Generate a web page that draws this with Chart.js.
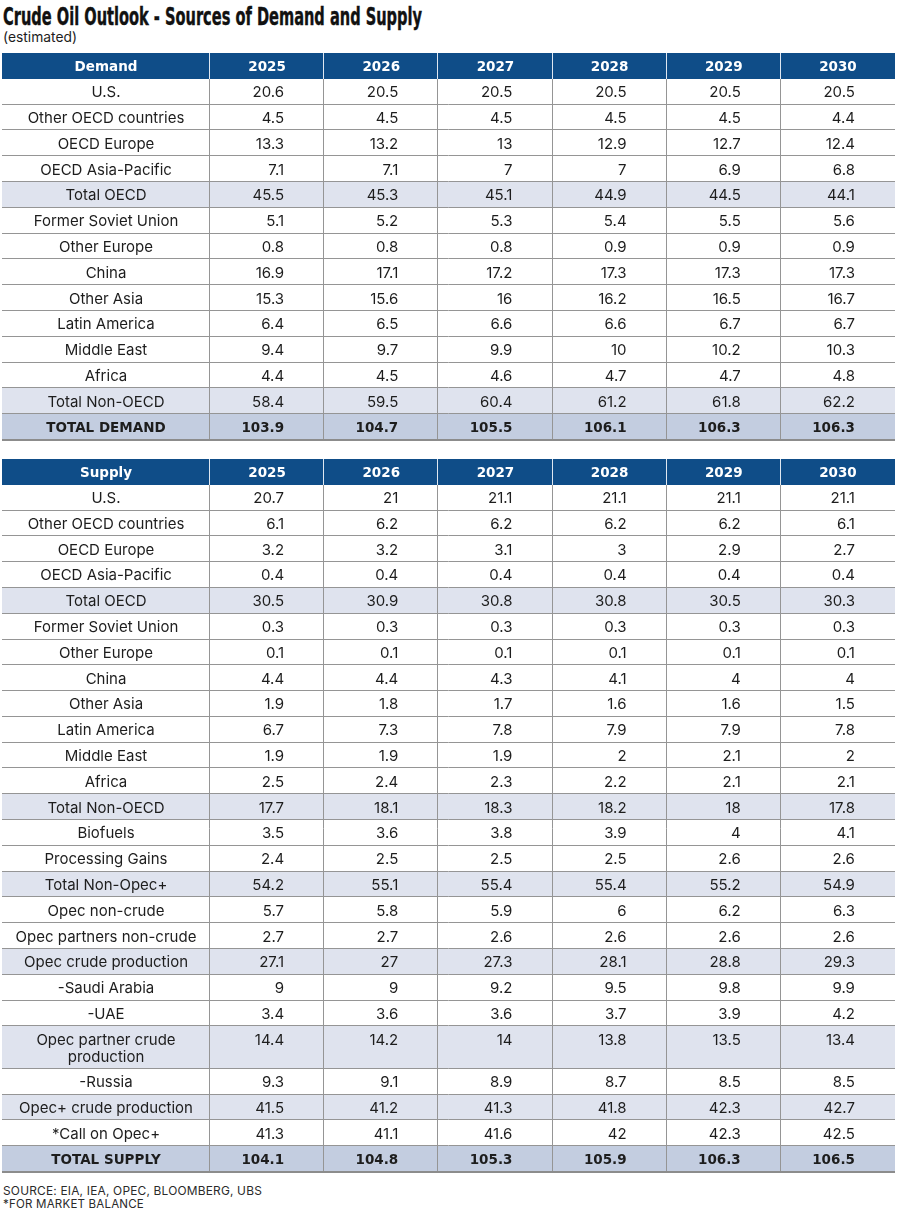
<!DOCTYPE html>
<html>
<head>
<meta charset="utf-8">
<script src="https://cdn.jsdelivr.net/npm/chart.js@4.4.7/dist/chart.umd.min.js"></script>
<style>
  body { margin: 0; width: 900px; height: 1216px; overflow: hidden; background: #fff; color: #1d1d1d; font-family: Inter, 'Liberation Sans', sans-serif; }
  .txt { position: absolute; left: 3px; white-space: nowrap; transform-origin: 0 0; }
  #title { top: 5px; font-family: 'Liberation Sans Narrow', 'DejaVu Sans Condensed', sans-serif; font-weight: bold; font-size: 24px; line-height: 24px; color: #111; -webkit-text-stroke: 0.4px #111; }
  #sub { top: 30px; font-size: 14px; line-height: 14px; }
  .note { font-size: 12px; line-height: 12px; letter-spacing: 0.2px; color: #2a2a2a; }
  #note1 { top: 1185px; }
  #note2 { top: 1198px; }
  canvas { position: absolute; left: 0; }
  #demand { top: 53px; }
  #supply { top: 459px; }
</style>
</head>
<body>
<div id="title" class="txt">Crude Oil Outlook - Sources of Demand and Supply</div>
<div id="sub" class="txt">(estimated)</div>
<canvas id="demand"></canvas>
<canvas id="supply"></canvas>
<div id="note1" class="txt note">SOURCE: EIA, IEA, OPEC, BLOOMBERG, UBS</div>
<div id="note2" class="txt note">*FOR MARKET BALANCE</div>
<script>
// ---- data ----
const YEARS = ['2025', '2026', '2027', '2028', '2029', '2030'];

const DEMAND_LABELS = [
  'U.S.', 'Other OECD countries', 'OECD Europe', 'OECD Asia-Pacific', 'Total OECD',
  'Former Soviet Union', 'Other Europe', 'China', 'Other Asia', 'Latin America',
  'Middle East', 'Africa', 'Total Non-OECD', 'TOTAL DEMAND',
];
const DEMAND_2025 = [20.6, 4.5, 13.3, 7.1, 45.5, 5.1, 0.8, 16.9, 15.3, 6.4, 9.4, 4.4, 58.4, 103.9];
const DEMAND_2026 = [20.5, 4.5, 13.2, 7.1, 45.3, 5.2, 0.8, 17.1, 15.6, 6.5, 9.7, 4.5, 59.5, 104.7];
const DEMAND_2027 = [20.5, 4.5, 13, 7, 45.1, 5.3, 0.8, 17.2, 16, 6.6, 9.9, 4.6, 60.4, 105.5];
const DEMAND_2028 = [20.5, 4.5, 12.9, 7, 44.9, 5.4, 0.9, 17.3, 16.2, 6.6, 10, 4.7, 61.2, 106.1];
const DEMAND_2029 = [20.5, 4.5, 12.7, 6.9, 44.5, 5.5, 0.9, 17.3, 16.5, 6.7, 10.2, 4.7, 61.8, 106.3];
const DEMAND_2030 = [20.5, 4.4, 12.4, 6.8, 44.1, 5.6, 0.9, 17.3, 16.7, 6.7, 10.3, 4.8, 62.2, 106.3];
const DEMAND_SUBTOTALS = ['Total OECD', 'Total Non-OECD'];

const SUPPLY_LABELS = [
  'U.S.', 'Other OECD countries', 'OECD Europe', 'OECD Asia-Pacific', 'Total OECD',
  'Former Soviet Union', 'Other Europe', 'China', 'Other Asia', 'Latin America',
  'Middle East', 'Africa', 'Total Non-OECD', 'Biofuels', 'Processing Gains',
  'Total Non-Opec+', 'Opec non-crude', 'Opec partners non-crude', 'Opec crude production',
  '-Saudi Arabia', '-UAE', 'Opec partner crude production', '-Russia',
  'Opec+ crude production', '*Call on Opec+', 'TOTAL SUPPLY',
];
const SUPPLY_2025 = [20.7, 6.1, 3.2, 0.4, 30.5, 0.3, 0.1, 4.4, 1.9, 6.7, 1.9, 2.5, 17.7, 3.5, 2.4, 54.2, 5.7, 2.7, 27.1, 9, 3.4, 14.4, 9.3, 41.5, 41.3, 104.1];
const SUPPLY_2026 = [21, 6.2, 3.2, 0.4, 30.9, 0.3, 0.1, 4.4, 1.8, 7.3, 1.9, 2.4, 18.1, 3.6, 2.5, 55.1, 5.8, 2.7, 27, 9, 3.6, 14.2, 9.1, 41.2, 41.1, 104.8];
const SUPPLY_2027 = [21.1, 6.2, 3.1, 0.4, 30.8, 0.3, 0.1, 4.3, 1.7, 7.8, 1.9, 2.3, 18.3, 3.8, 2.5, 55.4, 5.9, 2.6, 27.3, 9.2, 3.6, 14, 8.9, 41.3, 41.6, 105.3];
const SUPPLY_2028 = [21.1, 6.2, 3, 0.4, 30.8, 0.3, 0.1, 4.1, 1.6, 7.9, 2, 2.2, 18.2, 3.9, 2.5, 55.4, 6, 2.6, 28.1, 9.5, 3.7, 13.8, 8.7, 41.8, 42, 105.9];
const SUPPLY_2029 = [21.1, 6.2, 2.9, 0.4, 30.5, 0.3, 0.1, 4, 1.6, 7.9, 2.1, 2.1, 18, 4, 2.6, 55.2, 6.2, 2.6, 28.8, 9.8, 3.9, 13.5, 8.5, 42.3, 42.3, 106.3];
const SUPPLY_2030 = [21.1, 6.1, 2.7, 0.4, 30.3, 0.3, 0.1, 4, 1.5, 7.8, 2, 2.1, 17.8, 4.1, 2.6, 54.9, 6.3, 2.6, 29.3, 9.9, 4.2, 13.4, 8.5, 42.7, 42.5, 106.5];
const SUPPLY_SUBTOTALS = ['Total OECD', 'Total Non-OECD', 'Total Non-Opec+', 'Opec crude production', 'Opec partner crude production', 'Opec+ crude production'];

// ---- look ----
const TABLE_LEFT = 2;
const LABEL_RIGHT = 210;
const TABLE_RIGHT = 895;
const ROW_PX = 25.8;
const EXTRA_LINE = 0.65; // extra row height (in rows) per wrapped label line
const NUM_SHIFT = 17;    // numbers are right-aligned a bit right of column centre
const INK = '#1d1d1d';
const FILLS = { head: '#0f4d88', sub: '#dfe3ee', total: '#c3cde0' };
const RULE = '#959595';
const HEAD_RULE = '#dfe7f1';
const BODY_SIZE = 15;
const BODY_FONT = `${BODY_SIZE}px Inter, "Liberation Sans", sans-serif`;
const BOLD_SIZE = 13.5;
const BOLD_FONT = `bold ${BOLD_SIZE}px "DejaVu Sans", sans-serif`;
const CAP = 0.728;

const measureCtx = document.createElement('canvas').getContext('2d');

function wrapLabel(text, maxWidth) {
  measureCtx.font = BODY_FONT;
  if (measureCtx.measureText(text).width <= maxWidth) return [text];
  const words = text.split(' ');
  const lines = [];
  let cur = '';
  for (const w of words) {
    const next = cur ? cur + ' ' + w : w;
    if (cur && measureCtx.measureText(next).width > maxWidth) {
      lines.push(cur);
      cur = w;
    } else {
      cur = next;
    }
  }
  if (cur) lines.push(cur);
  return lines;
}

function buildRows(heading, labels, columns, subtotals) {
  const rows = [{ kind: 'head', lines: [heading], values: YEARS }];
  labels.forEach((lab, i) => {
    const kind = i === labels.length - 1 ? 'total' : subtotals.includes(lab) ? 'sub' : 'row';
    rows.push({ kind, lines: wrapLabel(lab, LABEL_RIGHT - TABLE_LEFT - 16), values: columns.map((c) => c[i]) });
  });
  let u = 0;
  rows.forEach((r) => {
    r.start = u;
    u += 1 + EXTRA_LINE * (r.lines.length - 1);
    r.end = u;
  });
  return { rows, units: u };
}

function tablePlugin(rows) {
  return {
    id: 'tableCells',
    afterDraw(chart) {
      const { ctx, chartArea } = chart;
      const x = chart.scales.x;
      const y = chart.scales.y;
      const left = TABLE_LEFT;
      const right = chartArea.right;
      const labelX = (left + chartArea.left) / 2;
      const unitPx = y.getPixelForValue(1) - y.getPixelForValue(0);
      const lineStep = unitPx * EXTRA_LINE;
      const edges = YEARS.map((_, i) => Math.round(x.getPixelForValue(i - 0.5)) - 0.5);
      const headTop = y.getPixelForValue(rows[0].start);
      const headBot = y.getPixelForValue(rows[0].end);
      const tableBot = y.getPixelForValue(rows[rows.length - 1].end);

      ctx.save();
      // cell fills
      rows.forEach((r) => {
        const fill = FILLS[r.kind];
        if (!fill) return;
        const top = y.getPixelForValue(r.start);
        const bot = y.getPixelForValue(r.end);
        ctx.fillStyle = fill;
        ctx.fillRect(left, Math.round(top), right - left, Math.round(bot) - Math.round(top));
      });

      // row rules
      ctx.lineWidth = 1;
      ctx.strokeStyle = RULE;
      ctx.beginPath();
      rows.slice(1, -1).forEach((r) => {
        const yy = Math.round(y.getPixelForValue(r.end)) - 0.5;
        ctx.moveTo(left, yy);
        ctx.lineTo(right, yy);
      });
      ctx.stroke();

      // column rules
      ctx.beginPath();
      edges.forEach((e) => {
        ctx.moveTo(e, Math.round(headBot));
        ctx.lineTo(e, Math.round(tableBot));
      });
      ctx.stroke();
      ctx.strokeStyle = HEAD_RULE;
      ctx.beginPath();
      edges.forEach((e) => {
        ctx.moveTo(e, Math.round(headTop));
        ctx.lineTo(e, Math.round(headBot));
      });
      ctx.stroke();

      // heavier bottom rule
      ctx.fillStyle = '#8c8c8c';
      ctx.fillRect(left, Math.round(tableBot) - 1, right - left, 2);

      // text
      rows.forEach((r) => {
        const top = y.getPixelForValue(r.start);
        const bold = r.kind === 'head' || r.kind === 'total';
        const size = bold ? BOLD_SIZE : BODY_SIZE;
        const base = Math.round(top + unitPx / 2 + (size * CAP) / 2);
        ctx.font = bold ? BOLD_FONT : BODY_FONT;
        ctx.fillStyle = r.kind === 'head' ? '#ffffff' : INK;
        ctx.textBaseline = 'alphabetic';
        ctx.textAlign = 'center';
        r.lines.forEach((ln, k) => ctx.fillText(ln, labelX, base + k * lineStep));
        if (r.kind === 'head') {
          r.values.forEach((v, i) => ctx.fillText(v, x.getPixelForValue(i), base));
        } else {
          ctx.textAlign = 'right';
          r.values.forEach((v, i) => ctx.fillText(String(v), x.getPixelForValue(i) + NUM_SHIFT, base));
        }
      });
      ctx.restore();
    },
  };
}

function makeTable(canvasId, heading, labels, columns, subtotals) {
  const { rows, units } = buildRows(heading, labels, columns, subtotals);
  const canvas = document.getElementById(canvasId);
  const h = Math.round(units * ROW_PX) + 2;
  canvas.width = 900;
  canvas.height = h;
  canvas.style.width = '900px';
  canvas.style.height = h + 'px';
  return new Chart(canvas, {
    type: 'scatter',
    data: { labels: YEARS, datasets: [] },
    options: {
      responsive: false,
      animation: false,
      devicePixelRatio: 1,
      events: [],
      layout: { padding: { left: LABEL_RIGHT, right: 900 - TABLE_RIGHT, top: 0, bottom: 2 } },
      plugins: { legend: { display: false }, tooltip: { enabled: false } },
      scales: {
        x: { type: 'category', labels: YEARS, offset: true, display: false },
        y: { type: 'linear', min: 0, max: units, reverse: true, display: false },
      },
    },
    plugins: [tablePlugin(rows)],
  });
}

makeTable('demand', 'Demand', DEMAND_LABELS,
  [DEMAND_2025, DEMAND_2026, DEMAND_2027, DEMAND_2028, DEMAND_2029, DEMAND_2030], DEMAND_SUBTOTALS);
makeTable('supply', 'Supply', SUPPLY_LABELS,
  [SUPPLY_2025, SUPPLY_2026, SUPPLY_2027, SUPPLY_2028, SUPPLY_2029, SUPPLY_2030], SUPPLY_SUBTOTALS);

// squeeze the html text lines to the reference widths
function fitWidth(id, target) {
  const el = document.getElementById(id);
  el.style.transform = 'none';
  const w = el.getBoundingClientRect().width;
  el.style.transform = `scaleX(${target / w})`;
}
function fitAll() {
  fitWidth('title', 419);
  fitWidth('sub', 74);
  fitWidth('note1', 259);
  fitWidth('note2', 141);
}
fitAll();
if (document.fonts) document.fonts.ready.then(fitAll);
</script>
</body>
</html>
